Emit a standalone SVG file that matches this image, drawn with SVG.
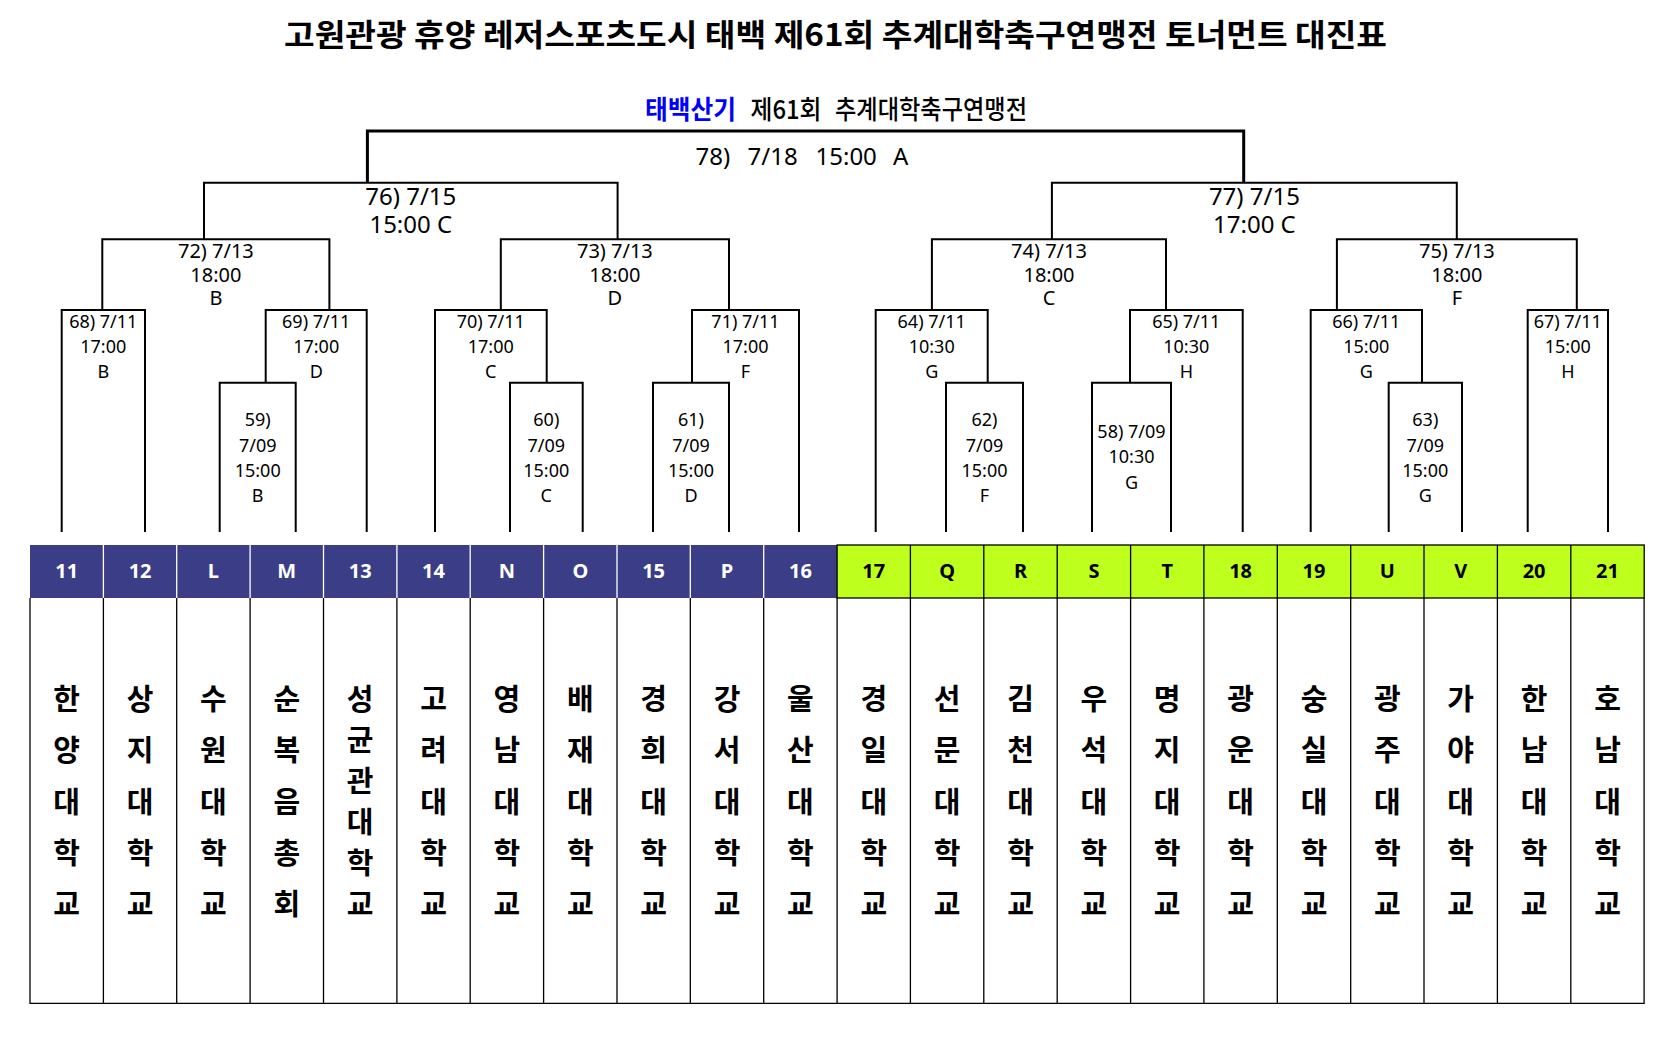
<svg xmlns="http://www.w3.org/2000/svg" width="1675" height="1039" viewBox="0 0 1675 1039">
<style>
.t{font-family:'Noto Sans','Noto Sans CJK KR',sans-serif;text-anchor:middle;fill:#000}
.s{font-size:18px}
.m{font-size:20px}
.l{font-size:24px}
.hd{font-family:'Noto Sans','Noto Sans CJK KR',sans-serif;font-weight:700;font-size:20px;text-anchor:middle}
.nm{font-family:'Noto Sans CJK KR',sans-serif;font-weight:700;font-size:29px;text-anchor:middle;fill:#000}
.br{fill:none;stroke:#000;stroke-width:2}
.fin{fill:none;stroke:#000;stroke-width:3}
.grid{stroke:#000;stroke-width:1.3;fill:none}
</style>
<rect width="1675" height="1039" fill="#fff"/>
<g id="title">
<text x="835.5" y="45.5" font-family="'Noto Sans CJK KR',sans-serif" font-weight="700" font-size="31" text-anchor="middle" textLength="1103" lengthAdjust="spacingAndGlyphs">고원관광 휴양 레저스포츠도시 태백 제61회 추계대학축구연맹전 토너먼트 대진표</text>
</g>
<g id="subtitle">
<text x="645" y="119" font-family="'Noto Sans CJK KR',sans-serif" font-weight="700" font-size="26" fill="#0000FF" textLength="91" lengthAdjust="spacingAndGlyphs">태백산기</text>
<text x="750.5" y="119" font-family="'Noto Sans CJK KR',sans-serif" font-weight="500" font-size="26" fill="#000" textLength="71" lengthAdjust="spacingAndGlyphs">제61회</text>
<text x="835" y="119" font-family="'Noto Sans CJK KR',sans-serif" font-weight="500" font-size="26" fill="#000" textLength="192" lengthAdjust="spacingAndGlyphs">추계대학축구연맹전</text>
</g>
<g id="connectors">
<path class="fin" d="M367.4,182.7V131H1243.7V182.7"/>
<path class="br" d="M204,239.3V182.7H617.6V239.3"/>
<path class="br" d="M1051.9,239.3V182.7H1456.8V239.3"/>
<path class="br" d="M102.3,310V239.3H329.4V310"/>
<path class="br" d="M500.8,310V239.3H729V310"/>
<path class="br" d="M931.9,310V239.3H1166V310"/>
<path class="br" d="M1336.9,310V239.3H1576.8V310"/>
<path class="br" d="M61.7,532V310H145V532"/>
<path class="br" d="M265.7,382.7V310H366.7V532"/>
<path class="br" d="M435,532V310H546.7V382.7"/>
<path class="br" d="M692,382.7V310H799V532"/>
<path class="br" d="M875.7,532V310H987.7V382.7"/>
<path class="br" d="M1130,382.7V310H1242.7V532"/>
<path class="br" d="M1310.7,532V310H1422V382.7"/>
<path class="br" d="M1527.7,532V310H1608V532"/>
<path class="br" d="M219.7,532V382.7H295.7V532"/>
<path class="br" d="M510,532V382.7H582.7V532"/>
<path class="br" d="M653,532V382.7H729V532"/>
<path class="br" d="M946,532V382.7H1023V532"/>
<path class="br" d="M1092,532V382.7H1171V532"/>
<path class="br" d="M1388.7,532V382.7H1462V532"/>
</g>
<g id="m78">
<text class="t l" y="165" style="text-anchor:start"><tspan x="695.5">78)</tspan><tspan x="747.5">7/18</tspan><tspan x="815.5">15:00</tspan><tspan x="893">A</tspan></text>
</g>
<g id="m76"><text class="t l" x="410.8" y="205">76) 7/15</text><text class="t l" x="410.8" y="233.3">15:00 C</text></g>
<g id="m77"><text class="t l" x="1254.4" y="205">77) 7/15</text><text class="t l" x="1254.4" y="233.3">17:00 C</text></g>
<g id="m72"><text class="t m" x="215.9" y="258.3">72) 7/13</text><text class="t m" x="215.9" y="281.7">18:00</text><text class="t m" x="215.9" y="305">B</text></g>
<g id="m73"><text class="t m" x="614.9" y="258.3">73) 7/13</text><text class="t m" x="614.9" y="281.7">18:00</text><text class="t m" x="614.9" y="305">D</text></g>
<g id="m74"><text class="t m" x="1049" y="258.3">74) 7/13</text><text class="t m" x="1049" y="281.7">18:00</text><text class="t m" x="1049" y="305">C</text></g>
<g id="m75"><text class="t m" x="1456.9" y="258.3">75) 7/13</text><text class="t m" x="1456.9" y="281.7">18:00</text><text class="t m" x="1456.9" y="305">F</text></g>
<g id="m68"><text class="t s" x="103.3" y="328.3">68) 7/11</text><text class="t s" x="103.3" y="352.7">17:00</text><text class="t s" x="103.3" y="378.3">B</text></g>
<g id="m69"><text class="t s" x="316.2" y="328.3">69) 7/11</text><text class="t s" x="316.2" y="352.7">17:00</text><text class="t s" x="316.2" y="378.3">D</text></g>
<g id="m70"><text class="t s" x="490.8" y="328.3">70) 7/11</text><text class="t s" x="490.8" y="352.7">17:00</text><text class="t s" x="490.8" y="378.3">C</text></g>
<g id="m71"><text class="t s" x="745.5" y="328.3">71) 7/11</text><text class="t s" x="745.5" y="352.7">17:00</text><text class="t s" x="745.5" y="378.3">F</text></g>
<g id="m64"><text class="t s" x="931.7" y="328.3">64) 7/11</text><text class="t s" x="931.7" y="352.7">10:30</text><text class="t s" x="931.7" y="378.3">G</text></g>
<g id="m65"><text class="t s" x="1186.3" y="328.3">65) 7/11</text><text class="t s" x="1186.3" y="352.7">10:30</text><text class="t s" x="1186.3" y="378.3">H</text></g>
<g id="m66"><text class="t s" x="1366.3" y="328.3">66) 7/11</text><text class="t s" x="1366.3" y="352.7">15:00</text><text class="t s" x="1366.3" y="378.3">G</text></g>
<g id="m67"><text class="t s" x="1567.8" y="328.3">67) 7/11</text><text class="t s" x="1567.8" y="352.7">15:00</text><text class="t s" x="1567.8" y="378.3">H</text></g>
<g id="m59"><text class="t s" x="257.7" y="425.5">59)</text><text class="t s" x="257.7" y="451.7">7/09</text><text class="t s" x="257.7" y="476.7">15:00</text><text class="t s" x="257.7" y="502.3">B</text></g>
<g id="m60"><text class="t s" x="546.3" y="425.5">60)</text><text class="t s" x="546.3" y="451.7">7/09</text><text class="t s" x="546.3" y="476.7">15:00</text><text class="t s" x="546.3" y="502.3">C</text></g>
<g id="m61"><text class="t s" x="691" y="425.5">61)</text><text class="t s" x="691" y="451.7">7/09</text><text class="t s" x="691" y="476.7">15:00</text><text class="t s" x="691" y="502.3">D</text></g>
<g id="m62"><text class="t s" x="984.5" y="425.5">62)</text><text class="t s" x="984.5" y="451.7">7/09</text><text class="t s" x="984.5" y="476.7">15:00</text><text class="t s" x="984.5" y="502.3">F</text></g>
<g id="m58"><text class="t s" x="1131.5" y="438.3">58) 7/09</text><text class="t s" x="1131.5" y="463.3">10:30</text><text class="t s" x="1131.5" y="488.7">G</text></g>
<g id="m63"><text class="t s" x="1425.3" y="425.5">63)</text><text class="t s" x="1425.3" y="451.7">7/09</text><text class="t s" x="1425.3" y="476.7">15:00</text><text class="t s" x="1425.3" y="502.3">G</text></g>
<g id="header">
<rect x="30" y="545" width="807.1" height="53" fill="#3B3E86"/>
<rect x="837.1" y="545" width="807.1" height="53" fill="#BEFF1E" stroke="#000" stroke-width="1.3"/>
<path stroke="#fff" stroke-width="1.3" d="M103.4,545V598M176.7,545V598M250.1,545V598M323.5,545V598M396.9,545V598M470.2,545V598M543.6,545V598M617,545V598M690.3,545V598M763.7,545V598"/>
<path stroke="#000" stroke-width="1.3" d="M910.4,545V598M983.8,545V598M1057.2,545V598M1130.6,545V598M1203.9,545V598M1277.3,545V598M1350.7,545V598M1424,545V598M1497.4,545V598M1570.8,545V598"/>
<g class="hd" fill="#fff">
<text x="66.7" y="578.3">11</text><text x="140.1" y="578.3">12</text><text x="213.4" y="578.3">L</text><text x="286.8" y="578.3">M</text><text x="360.2" y="578.3">13</text><text x="433.5" y="578.3">14</text><text x="506.9" y="578.3">N</text><text x="580.3" y="578.3">O</text><text x="653.6" y="578.3">15</text><text x="727" y="578.3">P</text><text x="800.4" y="578.3">16</text>
</g>
<g class="hd" fill="#000">
<text x="873.8" y="578.3">17</text><text x="947.1" y="578.3">Q</text><text x="1020.5" y="578.3">R</text><text x="1093.9" y="578.3">S</text><text x="1167.2" y="578.3">T</text><text x="1240.6" y="578.3">18</text><text x="1314" y="578.3">19</text><text x="1387.3" y="578.3">U</text><text x="1460.7" y="578.3">V</text><text x="1534.1" y="578.3">20</text><text x="1607.5" y="578.3">21</text>
</g>
</g>
<g id="names-grid">
<path class="grid" d="M30,598V1003.3H1644.1V598M103.4,598V1003.3M176.7,598V1003.3M250.1,598V1003.3M323.5,598V1003.3M396.9,598V1003.3M470.2,598V1003.3M543.6,598V1003.3M617,598V1003.3M690.3,598V1003.3M763.7,598V1003.3M837.1,598V1003.3M910.4,598V1003.3M983.8,598V1003.3M1057.2,598V1003.3M1130.6,598V1003.3M1203.9,598V1003.3M1277.3,598V1003.3M1350.7,598V1003.3M1424,598V1003.3M1497.4,598V1003.3M1570.8,598V1003.3"/>
</g>
<g id="names">
<text class="nm"><tspan x="66.7" y="710">한</tspan><tspan x="66.7" y="761.3">양</tspan><tspan x="66.7" y="812.5">대</tspan><tspan x="66.7" y="863.8">학</tspan><tspan x="66.7" y="915">교</tspan></text>
<text class="nm"><tspan x="140.1" y="710">상</tspan><tspan x="140.1" y="761.3">지</tspan><tspan x="140.1" y="812.5">대</tspan><tspan x="140.1" y="863.8">학</tspan><tspan x="140.1" y="915">교</tspan></text>
<text class="nm"><tspan x="213.4" y="710">수</tspan><tspan x="213.4" y="761.3">원</tspan><tspan x="213.4" y="812.5">대</tspan><tspan x="213.4" y="863.8">학</tspan><tspan x="213.4" y="915">교</tspan></text>
<text class="nm"><tspan x="286.8" y="710">순</tspan><tspan x="286.8" y="761.3">복</tspan><tspan x="286.8" y="812.5">음</tspan><tspan x="286.8" y="863.8">총</tspan><tspan x="286.8" y="915">회</tspan></text>
<text class="nm"><tspan x="360.2" y="710">성</tspan><tspan x="360.2" y="751">균</tspan><tspan x="360.2" y="792">관</tspan><tspan x="360.2" y="833">대</tspan><tspan x="360.2" y="874">학</tspan><tspan x="360.2" y="915">교</tspan></text>
<text class="nm"><tspan x="433.5" y="710">고</tspan><tspan x="433.5" y="761.3">려</tspan><tspan x="433.5" y="812.5">대</tspan><tspan x="433.5" y="863.8">학</tspan><tspan x="433.5" y="915">교</tspan></text>
<text class="nm"><tspan x="506.9" y="710">영</tspan><tspan x="506.9" y="761.3">남</tspan><tspan x="506.9" y="812.5">대</tspan><tspan x="506.9" y="863.8">학</tspan><tspan x="506.9" y="915">교</tspan></text>
<text class="nm"><tspan x="580.3" y="710">배</tspan><tspan x="580.3" y="761.3">재</tspan><tspan x="580.3" y="812.5">대</tspan><tspan x="580.3" y="863.8">학</tspan><tspan x="580.3" y="915">교</tspan></text>
<text class="nm"><tspan x="653.6" y="710">경</tspan><tspan x="653.6" y="761.3">희</tspan><tspan x="653.6" y="812.5">대</tspan><tspan x="653.6" y="863.8">학</tspan><tspan x="653.6" y="915">교</tspan></text>
<text class="nm"><tspan x="727" y="710">강</tspan><tspan x="727" y="761.3">서</tspan><tspan x="727" y="812.5">대</tspan><tspan x="727" y="863.8">학</tspan><tspan x="727" y="915">교</tspan></text>
<text class="nm"><tspan x="800.4" y="710">울</tspan><tspan x="800.4" y="761.3">산</tspan><tspan x="800.4" y="812.5">대</tspan><tspan x="800.4" y="863.8">학</tspan><tspan x="800.4" y="915">교</tspan></text>
<text class="nm"><tspan x="873.8" y="710">경</tspan><tspan x="873.8" y="761.3">일</tspan><tspan x="873.8" y="812.5">대</tspan><tspan x="873.8" y="863.8">학</tspan><tspan x="873.8" y="915">교</tspan></text>
<text class="nm"><tspan x="947.1" y="710">선</tspan><tspan x="947.1" y="761.3">문</tspan><tspan x="947.1" y="812.5">대</tspan><tspan x="947.1" y="863.8">학</tspan><tspan x="947.1" y="915">교</tspan></text>
<text class="nm"><tspan x="1020.5" y="710">김</tspan><tspan x="1020.5" y="761.3">천</tspan><tspan x="1020.5" y="812.5">대</tspan><tspan x="1020.5" y="863.8">학</tspan><tspan x="1020.5" y="915">교</tspan></text>
<text class="nm"><tspan x="1093.9" y="710">우</tspan><tspan x="1093.9" y="761.3">석</tspan><tspan x="1093.9" y="812.5">대</tspan><tspan x="1093.9" y="863.8">학</tspan><tspan x="1093.9" y="915">교</tspan></text>
<text class="nm"><tspan x="1167.2" y="710">명</tspan><tspan x="1167.2" y="761.3">지</tspan><tspan x="1167.2" y="812.5">대</tspan><tspan x="1167.2" y="863.8">학</tspan><tspan x="1167.2" y="915">교</tspan></text>
<text class="nm"><tspan x="1240.6" y="710">광</tspan><tspan x="1240.6" y="761.3">운</tspan><tspan x="1240.6" y="812.5">대</tspan><tspan x="1240.6" y="863.8">학</tspan><tspan x="1240.6" y="915">교</tspan></text>
<text class="nm"><tspan x="1314" y="710">숭</tspan><tspan x="1314" y="761.3">실</tspan><tspan x="1314" y="812.5">대</tspan><tspan x="1314" y="863.8">학</tspan><tspan x="1314" y="915">교</tspan></text>
<text class="nm"><tspan x="1387.3" y="710">광</tspan><tspan x="1387.3" y="761.3">주</tspan><tspan x="1387.3" y="812.5">대</tspan><tspan x="1387.3" y="863.8">학</tspan><tspan x="1387.3" y="915">교</tspan></text>
<text class="nm"><tspan x="1460.7" y="710">가</tspan><tspan x="1460.7" y="761.3">야</tspan><tspan x="1460.7" y="812.5">대</tspan><tspan x="1460.7" y="863.8">학</tspan><tspan x="1460.7" y="915">교</tspan></text>
<text class="nm"><tspan x="1534.1" y="710">한</tspan><tspan x="1534.1" y="761.3">남</tspan><tspan x="1534.1" y="812.5">대</tspan><tspan x="1534.1" y="863.8">학</tspan><tspan x="1534.1" y="915">교</tspan></text>
<text class="nm"><tspan x="1607.5" y="710">호</tspan><tspan x="1607.5" y="761.3">남</tspan><tspan x="1607.5" y="812.5">대</tspan><tspan x="1607.5" y="863.8">학</tspan><tspan x="1607.5" y="915">교</tspan></text>
</g>
</svg>
